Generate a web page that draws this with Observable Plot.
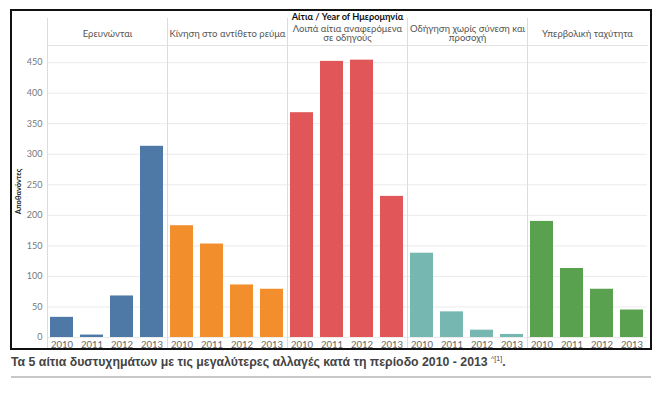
<!DOCTYPE html>
<html><head><meta charset="utf-8">
<script src="https://cdn.jsdelivr.net/npm/d3@7"></script>
<script src="https://cdn.jsdelivr.net/npm/@observablehq/plot@0.6"></script>
<style>
html,body{margin:0;padding:0;background:#fff;width:660px;height:397px;overflow:hidden;position:relative}
#chart{position:absolute;left:0;top:10px}
#border{position:absolute;left:10px;top:9px;width:642px;height:341px;box-sizing:border-box;border:2px solid #111;pointer-events:none}
#caption{position:absolute;left:11px;top:355px;font:bold 12.3px "Liberation Sans",Arial,sans-serif;color:#444;white-space:nowrap}
#caption sup{font-size:7px;font-weight:normal}
#rule{position:absolute;left:11px;top:376px;width:640px;height:2px;background:#c8c8c8}
g[aria-label="y-axis label"]{font-size:7.5px}
g[aria-label="y-axis label"] text{fill:#222;font-weight:bold}
</style></head><body>
<div id="chart"></div><div id="border"></div>
<div id="caption">Τα 5 αίτια δυστυχημάτων με τις μεγαλύτερες αλλαγές κατά τη περίοδο 2010 - 2013 <sup>^[1]</sup>.</div>
<div id="rule"></div>
<script>
const causes = ["Ερευνώνται","Κίνηση στο αντίθετο ρεύμα","Λοιπά αίτια αναφερόμενα σε οδηγούς","Οδήγηση χωρίς σύνεση και προσοχή","Υπερβολική ταχύτητα"];
const causeLabels = ["Ερευνώνται","Κίνηση στο αντίθετο ρεύμα","Λοιπά αίτια αναφερόμενα\nσε οδηγούς","Οδήγηση χωρίς σύνεση και\nπροσοχή","Υπερβολική ταχύτητα"];
const years = ["2010","2011","2012","2013"];
const ereunontai = [33, 4, 68, 313];
const antithetoRevma = [183, 153, 86, 79];
const loipaAitia = [368, 452, 454, 231];
const xorisSynesi = [138, 42, 12, 5];
const ypervolikiTaxytita = [190, 113, 79, 45];
const colors = ["#4e79a7","#f28e2b","#e15759","#76b7b2","#59a14f"];
const yTicks = [0,50,100,150,200,250,300,350,400,450];
const header = "Αίτια / Year of Ημερομηνία";
const yLabel = "Αποθανόντες";

const seriesValues = [ereunontai, antithetoRevma, loipaAitia, xorisSynesi, ypervolikiTaxytita];
const data = causes.flatMap((c, i) => years.map((y, j) => ({cause: c, year: y, value: seriesValues[i][j]})));

const plot = Plot.plot({
  width: 660, height: 339,
  marginLeft: 46, marginRight: 12, marginTop: 35, marginBottom: 12,
  style: {fontFamily: "Lato, sans-serif", background: "transparent", overflow: "visible"},
  fx: {domain: causes, padding: 0},
  x: {domain: years, paddingInner: 0.23, paddingOuter: 0.1},
  y: {domain: [0, 478]},
  color: {domain: causes, range: colors},
  marks: [
    Plot.gridY(yTicks, {stroke: "#ebebeb", strokeOpacity: 1}),
    Plot.frame({anchor: "top", stroke: "#e3e3e3"}),
    Plot.frame({anchor: "left", stroke: "#dcdcdc", insetTop: -27, insetBottom: -12}),
    Plot.barY(data, {fx: "cause", x: "year", y: "value", fill: "cause"}),
    Plot.axisY(yTicks, {tickSize: 0, tickPadding: 5, fill: "#777", fontSize: 9, label: yLabel, labelAnchor: "center", labelOffset: 32, labelArrow: "none"}),
    Plot.axisX({tickSize: 0, tickPadding: 4, fill: "#666", fontSize: 9.5, label: null}),
    Plot.axisFx({anchor: "top", label: header, tickSize: 0, tickFormat: () => "", labelAnchor: "center", fontWeight: "bold", fill: "#111", fontSize: 9.2}),
    Plot.text(causes, {fx: d => d, text: (d, i) => causeLabels[i], frameAnchor: "top", dy: -12, lineAnchor: "middle", fill: "#555", fontSize: 9.5})
  ]
});
document.getElementById("chart").appendChild(plot);
</script>
</body></html>
